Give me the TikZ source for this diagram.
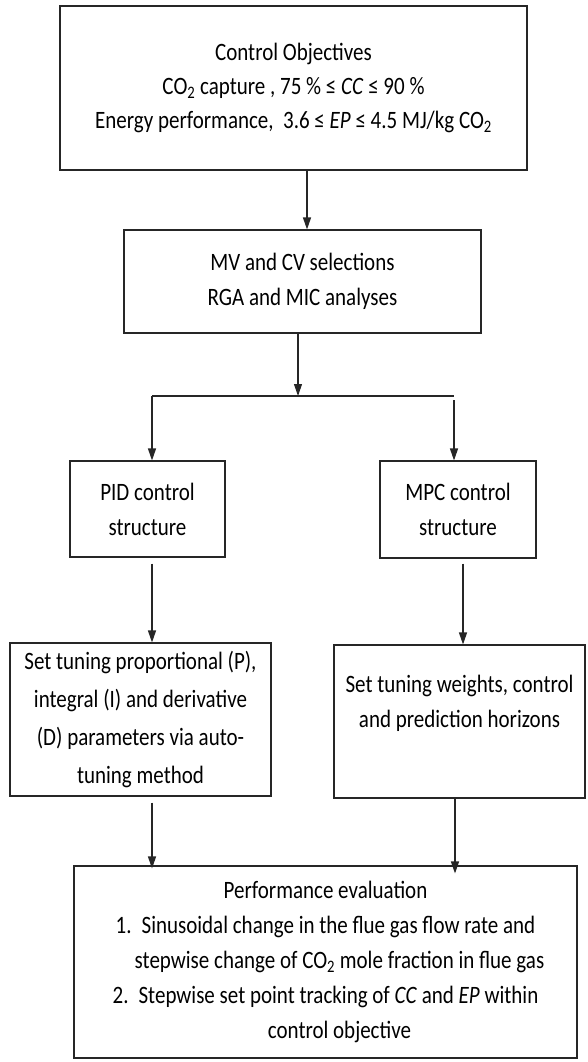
\documentclass[tikz,border=0pt]{standalone}
\usepackage{fontspec}
\setmainfont{Carlito}[FakeStretch=0.84]
\usetikzlibrary{arrows.meta}

\tikzset{
  stagebox/.style={draw=black!85, line width=1.1pt, align=center, inner sep=0pt,
    font=\fontsize{25}{35}\selectfont, text=black},
  flow/.style={draw=black!85, line width=1.1pt,
    -{Triangle[length=12pt,width=8pt]}},
  plain/.style={draw=black!85, line width=1.1pt}
}

\begin{document}
\begin{tikzpicture}[x=1pt, y=-1pt]
  \useasboundingbox (0,0) rectangle (587,1062);

  % stages of the control design procedure
  \node[stagebox, minimum width=467pt, minimum height=164pt,
        font=\fontsize{25}{34}\selectfont] (obj) at (293.5,88)
    {Control Objectives\\
     CO\textsubscript{2} capture , 75 \% ≤ \textit{CC} ≤ 90 \%\\
     Energy performance,\ \ 3.6 ≤ \textit{EP} ≤ 4.5 MJ/kg CO\textsubscript{2}};

  \node[stagebox, minimum width=357pt, minimum height=103pt] (sel) at (302.5,281.5)
    {MV and CV selections\\ RGA and MIC analyses};

  \node[stagebox, minimum width=155pt, minimum height=96pt] (pid) at (147.5,509)
    {PID control\\ structure};

  \node[stagebox, minimum width=156pt, minimum height=97pt] (mpc) at (458,509.5)
    {MPC control\\ structure};

  \node[stagebox, minimum width=261pt, minimum height=153pt,
        font=\fontsize{25}{38}\selectfont] (pidtune) at (140.5,719.5)
    {Set tuning proportional (P),\\ integral (I) and derivative\\
     (D) parameters via auto-\\ tuning method};

  \node[stagebox, minimum width=251pt, minimum height=153pt] (mpctune) at (459.5,721.5)
    {Set tuning weights, control\\ and prediction horizons\\[6pt]};

  \node[stagebox, minimum width=503pt, minimum height=192pt] (eval) at (325.5,962)
    {Performance evaluation\\
     1.\hspace{10pt}Sinusoidal change in the flue gas flow rate and\\
     \hspace*{28pt}stepwise change of CO\textsubscript{2} mole fraction in flue gas\\
     2.\hspace{10pt}Stepwise set point tracking of \textit{CC} and \textit{EP} within\\
     \hspace*{28pt}control objective};

  % branching point below the selection stage
  \coordinate (split) at (298,396);
  \coordinate (splitL) at (152,396);
  \coordinate (splitR) at (454,396);
  \coordinate (dropR) at (454,400);

  % connectors
  \draw[flow] ([xshift=13.5pt]obj.south) -- ([xshift=4.5pt]sel.north);
  \draw[flow] ([xshift=-4.5pt]sel.south) -- (split);
  \draw[plain] (splitL) -- (splitR);
  \draw[flow] (splitL) -- ([xshift=4.5pt]pid.north);
  \draw[flow] (dropR) -- ([xshift=-4pt]mpc.north);
  \draw[flow] ([xshift=4.5pt,yshift=-6pt]pid.south) -- ([xshift=11.5pt]pidtune.north);
  \draw[flow] ([xshift=5pt,yshift=-5pt]mpc.south) -- ([xshift=3.5pt]mpctune.north);
  \draw[flow] ([xshift=11.5pt,yshift=-6pt]pidtune.south) -- ([xshift=-173.5pt,yshift=-3pt]eval.north);
  \draw[flow] ([xshift=-4.5pt]mpctune.south) -- ([xshift=129.5pt,yshift=-8pt]eval.north);
\end{tikzpicture}
\end{document}
